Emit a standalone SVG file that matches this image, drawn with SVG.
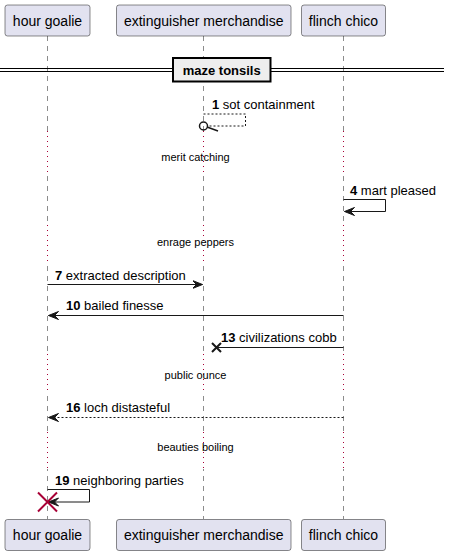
<svg xmlns="http://www.w3.org/2000/svg" width="449" height="556" viewBox="0 0 449 556">
<style>
.pbox{fill:#E2E2F0;stroke:#181818;stroke-width:0.5}
.pt{font-family:"Liberation Sans",Arial,sans-serif;font-size:14px;fill:#000;text-anchor:middle}
.life{stroke:#181818;stroke-width:0.5;stroke-dasharray:5,5;fill:none}
.delay{stroke:#A80036;stroke-width:1;stroke-dasharray:1,4;fill:none}
.msg{stroke:#181818;stroke-width:1;fill:none}
.dash{stroke-dasharray:2,2}
.ml{font-family:"Liberation Sans",Arial,sans-serif;font-size:13px;fill:#000}
.dl{font-family:"Liberation Sans",Arial,sans-serif;font-size:11px;fill:#000;text-anchor:middle}
.ah{fill:#181818;stroke:#181818;stroke-width:1}
</style>
<defs>
<marker id="arr" viewBox="0 0 12 10" refX="10" refY="5" markerWidth="12" markerHeight="10" orient="auto-start-reverse" markerUnits="userSpaceOnUse">
<polygon points="0,1 10,5 0,9 4,5" class="ah"/>
</marker>
</defs>
<g id="lifelines">
<line class="life" x1="47.5" y1="36" x2="47.5" y2="519"/>
<line class="life" x1="203.5" y1="36" x2="203.5" y2="519"/>
<line class="life" x1="343.5" y1="36" x2="343.5" y2="519"/>
</g>
<g id="delays">
<rect x="0" y="131" width="449" height="44" fill="#fff"/>
<rect x="0" y="225" width="449" height="37" fill="#fff"/>
<rect x="0" y="354" width="449" height="38" fill="#fff"/>
<rect x="0" y="432" width="449" height="37" fill="#fff"/>
<g class="delay">
<line x1="47.5" y1="131" x2="47.5" y2="175"/><line x1="203.5" y1="131" x2="203.5" y2="175"/><line x1="343.5" y1="131" x2="343.5" y2="175"/>
<line x1="47.5" y1="225" x2="47.5" y2="262"/><line x1="203.5" y1="225" x2="203.5" y2="262"/><line x1="343.5" y1="225" x2="343.5" y2="262"/>
<line x1="47.5" y1="354" x2="47.5" y2="392"/><line x1="203.5" y1="354" x2="203.5" y2="392"/><line x1="343.5" y1="354" x2="343.5" y2="392"/>
<line x1="47.5" y1="432" x2="47.5" y2="469"/><line x1="203.5" y1="432" x2="203.5" y2="469"/><line x1="343.5" y1="432" x2="343.5" y2="469"/>
</g>
<text class="dl" x="195.5" y="161">merit catching</text>
<text class="dl" x="195.5" y="246">enrage peppers</text>
<text class="dl" x="195.5" y="379">public ounce</text>
<text class="dl" x="195.5" y="451">beauties boiling</text>
</g>
<g id="divider">
<line x1="0" y1="68.5" x2="444" y2="68.5" stroke="#000" stroke-width="1"/>
<line x1="0" y1="71.5" x2="444" y2="71.5" stroke="#000" stroke-width="1"/>
<rect x="173" y="58" width="97.5" height="23.5" fill="#EEEEEE" stroke="#000" stroke-width="2"/>
<text x="221.7" y="75" font-family="'Liberation Sans',Arial,sans-serif" font-size="13" font-weight="bold" text-anchor="middle">maze tonsils</text>
</g>
<g id="connectors">
<path class="msg dash" d="M203.5,114 H245.5 V126 H207.5"/>
<circle cx="203.5" cy="126" r="4" fill="none" stroke="#181818" stroke-width="1.5"/>
<line x1="207" y1="127" x2="218" y2="131" stroke="#181818" stroke-width="1.5"/>
<text class="ml" x="212" y="109"><tspan font-weight="bold">1</tspan> sot containment</text>

<path class="msg" d="M343.5,199.5 H385.5 V211.5 H344.5" marker-end="url(#arr)"/>
<text class="ml" x="350" y="195"><tspan font-weight="bold">4</tspan> mart pleased</text>

<line class="msg" x1="47.5" y1="284.5" x2="202.5" y2="284.5" marker-end="url(#arr)"/>
<text class="ml" x="55" y="280"><tspan font-weight="bold">7</tspan> extracted description</text>

<line class="msg" x1="343.5" y1="315.5" x2="48.5" y2="315.5" marker-end="url(#arr)"/>
<text class="ml" x="66" y="310"><tspan font-weight="bold">10</tspan> bailed finesse</text>

<line class="msg" x1="343.5" y1="347.5" x2="217" y2="347.5"/>
<path d="M212,343 L221,352 M212,352 L221,343" stroke="#181818" stroke-width="2" fill="none"/>
<text class="ml" x="221" y="342"><tspan font-weight="bold">13</tspan> civilizations cobb</text>

<line class="msg dash" x1="343.5" y1="417.5" x2="48.5" y2="417.5" marker-end="url(#arr)"/>
<text class="ml" x="66" y="412"><tspan font-weight="bold">16</tspan> loch distasteful</text>

<path class="msg" d="M47.5,489.5 H89.5 V502 H48.5" marker-end="url(#arr)"/>
<path d="M38,492.5 L57,511.5 M38,511.5 L57,492.5" stroke="#A80036" stroke-width="2" fill="none"/>
<text class="ml" x="55" y="485"><tspan font-weight="bold">19</tspan> neighboring parties</text>
</g>
<g id="p-hour-goalie">
<rect class="pbox" x="5" y="5" width="85" height="31" rx="2.5"/>
<text class="pt" x="47.5" y="25.5">hour goalie</text>
<rect class="pbox" x="5" y="519.5" width="85" height="31" rx="2.5"/>
<text class="pt" x="47.5" y="540">hour goalie</text>
</g>
<g id="p-extinguisher-merchandise">
<rect class="pbox" x="116.5" y="5" width="174.5" height="31" rx="2.5"/>
<text class="pt" x="203.7" y="25.5">extinguisher merchandise</text>
<rect class="pbox" x="116.5" y="519.5" width="174.5" height="31" rx="2.5"/>
<text class="pt" x="203.7" y="540">extinguisher merchandise</text>
</g>
<g id="p-flinch-chico">
<rect class="pbox" x="301.5" y="5" width="84" height="31" rx="2.5"/>
<text class="pt" x="343.5" y="25.5">flinch chico</text>
<rect class="pbox" x="301.5" y="519.5" width="84" height="31" rx="2.5"/>
<text class="pt" x="343.5" y="540">flinch chico</text>
</g>
</svg>
